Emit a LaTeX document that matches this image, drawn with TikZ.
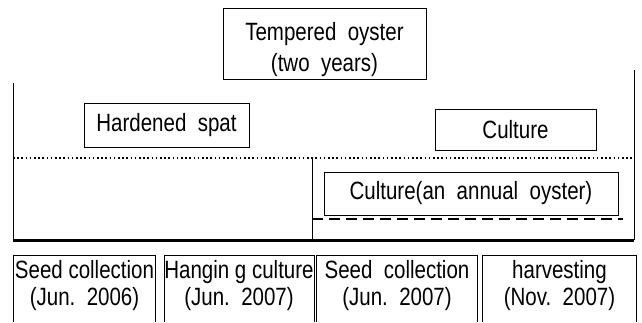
\documentclass[tikz,border=0pt]{standalone}
\usepackage{fontspec}
\setmainfont{Liberation Sans}[FakeStretch=0.82]
\begin{document}
\begin{tikzpicture}[x=1pt,y=-1pt,line width=0.8pt,
    font=\fontsize{25}{27}\selectfont]

      \useasboundingbox (0,0) rectangle (642,322);
      \clip (0,0) rectangle (642,322);

      % stage boxes above the time line
      \begin{scope}[every node/.style={draw,inner sep=0pt,align=center}]
        \node (temper) at (324.5,43.5) [minimum width=203pt,minimum height=71pt] {\rule{0pt}{31pt}Tempered\ \ oyster\\[4pt](two\ \ years)};
        \node (spat)   at (166.5,125)  [minimum width=165pt,minimum height=44pt] {Hardened\ \ spat};
        \node (cult)   at (515.5,129.5) [minimum width=161pt,minimum height=41pt] {Culture};
        \node (annual) at (471,193.5)  [minimum width=294pt,minimum height=43pt] {Culture(an\ \ annual\ \ oyster)};
      \end{scope}

      % events below the time line
      \begin{scope}[every node/.style={inner sep=0pt,align=center,minimum height=59pt}]
        \node (seedA) at (84.5,285.5)  [minimum width=141pt] {Seed collection\\(Jun.\ \ 2006)};
        \node (hang)  at (239,285.5)   [minimum width=144pt] {Hangin g culture\\(Jun.\ \ 2007)};
        \node (seedB) at (397,285.5)   [minimum width=160pt] {Seed\ \ collection\\(Jun.\ \ 2007)};
        \node (harv)  at (559.5,285.5) [minimum width=153pt] {harvesting\\(Nov.\ \ 2007)};
      \end{scope}
      \coordinate (bottom) at (0,322);
      \foreach \n in {seedA,hang,seedB,harv}
        \draw (\n.north west |- bottom) -- (\n.north west) -- (\n.north east) -- (\n.north east |- bottom);

      % frame and time line
      \coordinate (lt) at (13,83);
      \coordinate (rt) at (634,70);
      \coordinate (lb) at (13,240);
      \coordinate (rb) at (634,240);
      \coordinate (mid) at (312,158);
      \coordinate (midb) at (312,240);
      \draw (lt) -- (lb);
      \draw (rt) -- (rb);
      \draw (mid) -- (midb);
      \draw[line width=1.6pt,dash pattern=on 1.6pt off 2.6pt] (13,158) -- (634,158);
      \draw[line width=1.8pt,dash pattern=on 11pt off 6pt] (312,219) -- (623,219);
      \draw[line width=3pt] (lb) -- (rb);

    \end{tikzpicture}
\end{document}
